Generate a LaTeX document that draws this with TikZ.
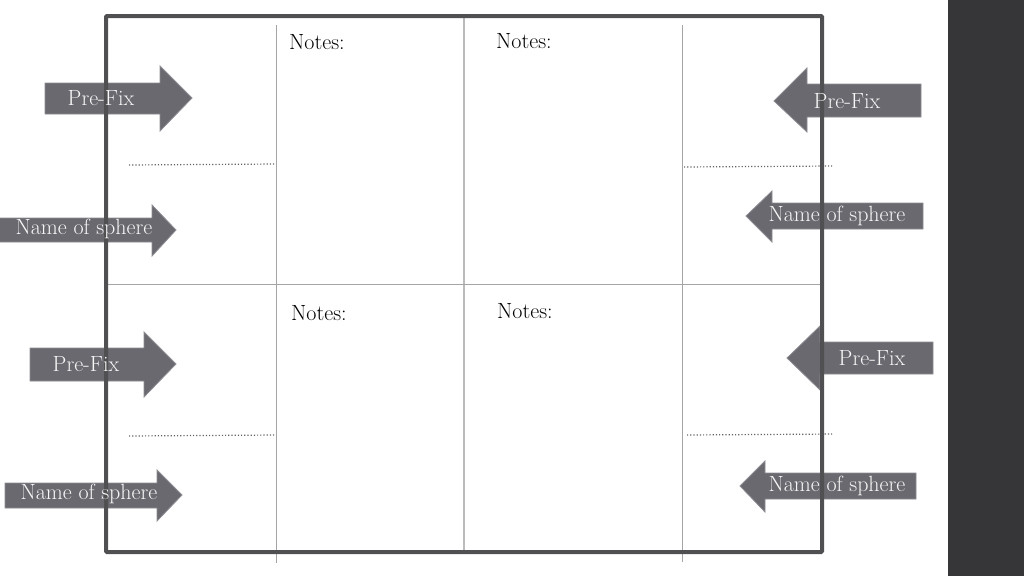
\documentclass[tikz,border=0pt]{standalone}
\definecolor{arrowfill}{RGB}{106,105,111}
\definecolor{arrowedge}{RGB}{140,140,146}
\definecolor{framecol}{RGB}{80,80,82}
\definecolor{gridcol}{RGB}{165,165,165}
\definecolor{panelcol}{RGB}{54,53,56}
\definecolor{dotcol}{RGB}{100,100,100}
\begin{document}
\begin{tikzpicture}[x=1pt,y=-1pt,
  arrowshape/.style={fill=arrowfill,draw=arrowedge,line width=0.8pt},
  arrowtext/.style={text=white!94!gray,font=\fontsize{22}{26}\selectfont,inner sep=0pt},
  notetext/.style={text=black,font=\fontsize{22}{26}\selectfont,inner sep=0pt,anchor=west},
  gridline/.style={draw=gridcol,line width=1pt},
  dotline/.style={draw=dotcol,line width=1.2pt,dotted},
  framebox/.style={draw=framecol,line width=4pt,rounded corners=1pt}]
\useasboundingbox (0,0) rectangle (1024,576);
\fill[white] (0,0) rectangle (1024,576);
\fill[panelcol] (948,0) rectangle (1024,576);
% grid lines
\coordinate (v1t) at (276,25); \coordinate (v1b) at (276,563);
\coordinate (v2t) at (464,16); \coordinate (v2b) at (464,552);
\coordinate (v3t) at (682,25); \coordinate (v3b) at (682,562);
\coordinate (hl) at (106,284); \coordinate (hr) at (822,284);
\draw[gridline] (v1t) -- (v1b);
\draw[gridline,draw=gridcol!75,line width=1.5pt] (v2t) -- (v2b);
\draw[gridline] (v3t) -- (v3b);
\draw[gridline] (hl) -- (hr);
% dotted lines
\coordinate (d1a) at (129,165); \coordinate (d1b) at (276,164);
\coordinate (d2a) at (684,167); \coordinate (d2b) at (832,166);
\coordinate (d3a) at (129,436); \coordinate (d3b) at (276,435);
\coordinate (d4a) at (687,435); \coordinate (d4b) at (834,434);
\draw[dotline] (d1a) -- (d1b);
\draw[dotline] (d2a) -- (d2b);
\draw[dotline] (d3a) -- (d3b);
\draw[dotline] (d4a) -- (d4b);
% arrow shapes (left side, pointing right)
\path[arrowshape] (45,83) -- (160,83) -- (160,66) -- (192,98) -- (160,131) -- (160,114) -- (45,114) -- cycle;
\path[arrowshape] (-2,218) -- (152,218) -- (152,205) -- (176,230) -- (152,256) -- (152,242) -- (-2,242) -- cycle;
\path[arrowshape] (30,348) -- (144,348) -- (144,332) -- (176,364) -- (144,397) -- (144,381) -- (30,381) -- cycle;
\path[arrowshape] (5,483) -- (157,483) -- (157,470) -- (182,495) -- (157,521) -- (157,508) -- (5,508) -- cycle;
% arrow shapes (right side, pointing left)
\path[arrowshape] (921,84) -- (807,84) -- (807,68) -- (774,101) -- (807,132) -- (807,117) -- (921,117) -- cycle;
\path[arrowshape] (923,203) -- (772,203) -- (772,191) -- (746,216) -- (772,242) -- (772,229) -- (923,229) -- cycle;
\path[arrowshape] (933,342) -- (820,342) -- (820,326) -- (787,358) -- (820,390) -- (820,374) -- (933,374) -- cycle;
\path[arrowshape] (916,473) -- (765,473) -- (765,461) -- (740,486) -- (765,512) -- (765,499) -- (916,499) -- cycle;
% frame
\draw[framebox] (106,16) rectangle (822,552);
% arrow labels
\node[arrowtext] (p1) at (101,98) {Pre-Fix};
\node[arrowtext] (n1) at (84,229) {Name of sphere};
\node[arrowtext] (p2) at (86,364) {Pre-Fix};
\node[arrowtext] (n2) at (89,494) {Name of sphere};
\node[arrowtext] (p3) at (847,101) {Pre-Fix};
\node[arrowtext] (n3) at (837,216) {Name of sphere};
\node[arrowtext] (p4) at (872,358) {Pre-Fix};
\node[arrowtext] (n4) at (837,486) {Name of sphere};
% notes
\node[notetext] (t1) at (289,42) {Notes:};
\node[notetext] (t2) at (496,41) {Notes:};
\node[notetext] (t3) at (291,313) {Notes:};
\node[notetext] (t4) at (497,311) {Notes:};
\end{tikzpicture}
\end{document}
